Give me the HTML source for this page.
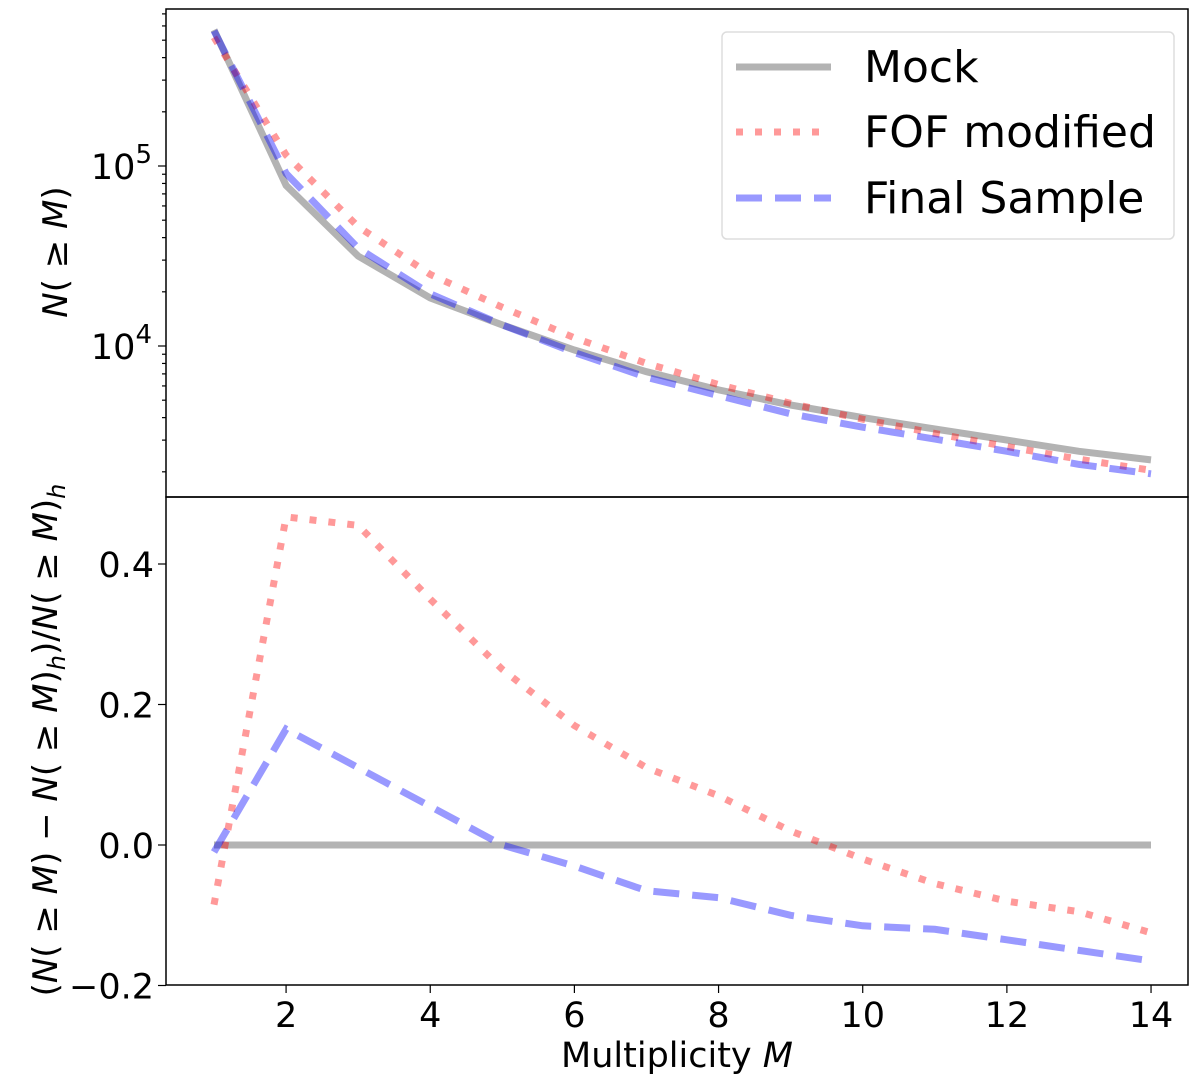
<!DOCTYPE html>
<html><head><meta charset="utf-8"><style>
body{margin:0;background:#fff}
svg text{font-family:"DejaVu Sans","Liberation Sans",sans-serif;fill:#000}
</style></head><body>
<svg id="chart" width="1200" height="1084" viewBox="0 0 1200 1084" xmlns="http://www.w3.org/2000/svg">
<g id="topPanel"></g>
<g id="botPanel"></g>
<g id="frames"></g>
<g id="legend">
<rect x="722" y="32" width="452" height="207" rx="5" fill="#fff" fill-opacity="0.85" stroke="#ddd" stroke-width="1.5"/>
<line x1="736" y1="67" x2="831" y2="67" stroke="#999" stroke-opacity="0.75" stroke-width="7"/>
<text x="864" y="82" font-size="44">Mock</text>
<line x1="736" y1="132" x2="831" y2="132" stroke="#f00" stroke-opacity="0.4" stroke-width="7" stroke-dasharray="7 12"/>
<text x="864" y="147" font-size="44">FOF modified</text>
<line x1="736" y1="198" x2="831" y2="198" stroke="#00f" stroke-opacity="0.4" stroke-width="7" stroke-dasharray="26 13"/>
<text x="864" y="213" font-size="44">Final Sample</text>
</g>
<text transform="translate(67,252) rotate(-90)" text-anchor="middle" font-size="34"><tspan font-style="italic">N</tspan>( ≥ <tspan font-style="italic">M</tspan>)</text>
<text transform="translate(57,740) rotate(-90)" text-anchor="middle" font-size="34">(<tspan font-style="italic">N</tspan>( ≥ <tspan font-style="italic">M</tspan>) − <tspan font-style="italic">N</tspan>( ≥ <tspan font-style="italic">M</tspan>)<tspan font-style="italic" font-size="24" dy="8">h</tspan><tspan dy="-8">)/</tspan><tspan font-style="italic">N</tspan>( ≥ <tspan font-style="italic">M</tspan>)<tspan font-style="italic" font-size="24" dy="8">h</tspan></text>
<text x="677" y="1067" text-anchor="middle" font-size="35">Multiplicity <tspan font-style="italic">M</tspan></text>
</svg>
<script>
const multiplicity=[1,2,3,4,5,6,7,8,9,10,11,12,13,14];
const mockCounts=[570000,78000,31600,18500,13100,9500,7200,5700,4700,4000,3460,3000,2600,2330];
const fofCounts=[519000,115000,46000,25000,16400,11100,8000,6100,4800,3920,3270,2760,2350,2040];
const finalCounts=[564000,91000,35000,19500,13100,9200,6700,5300,4200,3540,3040,2600,2200,1950];
const mockRatio=[0,0,0,0,0,0,0,0,0,0,0,0,0,0];
const fofRatio=[-0.085,0.467,0.455,0.35,0.25,0.17,0.11,0.07,0.02,-0.02,-0.055,-0.08,-0.095,-0.125];
const finalRatio=[-0.01,0.165,0.11,0.055,0.0,-0.03,-0.065,-0.075,-0.1,-0.115,-0.12,-0.135,-0.15,-0.165];
const xTicks=[2,4,6,8,10,12,14];
const ratioTicks=[-0.2,0.0,0.2,0.4];
const ratioTickLabels=["−0.2","0.0","0.2","0.4"];

const NS="http://www.w3.org/2000/svg";
const L=166,R=1188,T=9,MID=497,B=985;
const xs=m=>214+(m-1)*72.08;
const yTop=v=>166-(Math.log10(v)-5)*180;
const yBot=v=>845-v*702.5;
function mk(tag,attrs,parent){const e=document.createElementNS(NS,tag);for(const k in attrs)e.setAttribute(k,attrs[k]);parent.appendChild(e);return e;}
const topG=document.getElementById('topPanel'),botG=document.getElementById('botPanel'),fr=document.getElementById('frames');
const styles={mock:{stroke:'#999','stroke-opacity':0.75,'stroke-width':7,fill:'none'},
fof:{stroke:'#f00','stroke-opacity':0.4,'stroke-width':7,fill:'none','stroke-dasharray':'7 12'},
final:{stroke:'#00f','stroke-opacity':0.4,'stroke-width':7,fill:'none','stroke-dasharray':'26 13'}};
function drawLine(vals,yf,st,parent,name){
 const p=mk('polyline',Object.assign({points:vals.map((v,i)=>xs(multiplicity[i]).toFixed(1)+','+yf(v).toFixed(1)).join(' ')},st),parent);
 
 
}
drawLine(mockCounts,yTop,styles.mock,topG,'mock-counts-line');
drawLine(fofCounts,yTop,styles.fof,topG,'fof-counts-line');
drawLine(finalCounts,yTop,styles.final,topG,'final-counts-line');
drawLine(mockRatio,yBot,styles.mock,botG,'mock-ratio-line');
drawLine(fofRatio,yBot,styles.fof,botG,'fof-ratio-line');
drawLine(finalRatio,yBot,styles.final,botG,'final-ratio-line');
const f1=mk('rect',{x:L,y:T,width:R-L,height:MID-T,fill:'none',stroke:'#000','stroke-width':1.5},fr);


const f2=mk('rect',{x:L,y:MID,width:R-L,height:B-MID,fill:'none',stroke:'#000','stroke-width':1.5},fr);


for(let d=3;d<=5;d++){for(let k=1;k<=9;k++){const v=k*Math.pow(10,d);const y=yTop(v);if(y<T||y>MID)continue;
 const t=mk('line',{x1:L,x2:L-(k==1?8:4),y1:y,y2:y,stroke:'#000','stroke-width':1.2},fr);
 
 
 if(k==1){const tx=mk('text',{x:L-14,y:y+13,'text-anchor':'end','font-size':35},fr);
  
  
  tx.innerHTML='10<tspan font-size="26" dy="-16">'+d+'</tspan>';}}}
ratioTicks.forEach((v,i)=>{const y=yBot(v);
 const t=mk('line',{x1:L,x2:L-8,y1:y,y2:y,stroke:'#000','stroke-width':1.2},fr);
 
 
 const tx=mk('text',{x:L-12,y:y+13,'text-anchor':'end','font-size':35},fr);
 
 
 tx.textContent=ratioTickLabels[i];});
xTicks.forEach(v=>{const x=xs(v);
 const t=mk('line',{x1:x,x2:x,y1:B,y2:B+8,stroke:'#000','stroke-width':1.2},fr);
 
 
 const tx=mk('text',{x:x,y:B+42,'text-anchor':'middle','font-size':35},fr);
 
 
 tx.textContent=v;});
</script>
</body></html>
